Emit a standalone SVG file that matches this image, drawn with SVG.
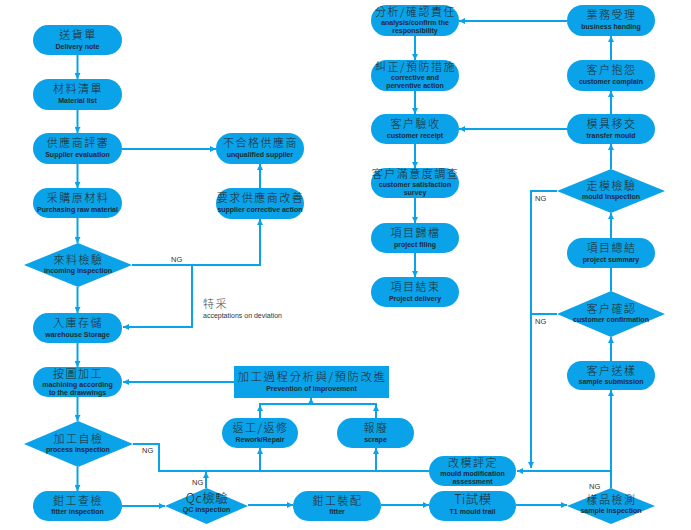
<svg xmlns="http://www.w3.org/2000/svg" width="691" height="530" viewBox="0 0 691 530">
<style>
.n{fill:#0AA2E8}
.l{stroke:#0AA2E8;stroke-width:2;fill:none}
.zh{font-family:"Noto Sans CJK TC","Noto Sans CJK SC",sans-serif;font-size:11px;font-weight:300;fill:#262626;text-anchor:middle;letter-spacing:1.5px}
.en{font-family:"Liberation Sans",Arial,sans-serif;font-size:7px;font-weight:bold;fill:#1c2a38;text-anchor:middle}
.ng{font-family:"Liberation Sans",Arial,sans-serif;font-size:7.5px;fill:#333}
.lbz{font-family:"Noto Sans CJK TC","Noto Sans CJK SC",sans-serif;font-size:11px;font-weight:300;fill:#444;letter-spacing:1.5px}
.lbe{font-family:"Liberation Sans",Arial,sans-serif;font-size:7px;fill:#333}
</style>
<defs>
<marker id="a" markerUnits="userSpaceOnUse" markerWidth="6" markerHeight="6" refX="6" refY="3" orient="auto">
<path d="M0,0 L6,3 L0,6 z" fill="#0AA2E8"/>
</marker>
</defs>
<rect width="691" height="530" fill="#fff"/>

<g id="connectors" class="l">
<path d="M77.5,55 V79" marker-end="url(#a)"/>
<path d="M77.5,110 V133" marker-end="url(#a)"/>
<path d="M77.5,164 V188" marker-end="url(#a)"/>
<path d="M77.5,218 V243" marker-end="url(#a)"/>
<path d="M77.5,287 V313" marker-end="url(#a)"/>
<path d="M77.5,343 V367" marker-end="url(#a)"/>
<path d="M77.5,397 V421" marker-end="url(#a)"/>
<path d="M77.5,467 V491" marker-end="url(#a)"/>
<path d="M122,149 H216" marker-end="url(#a)"/>
<path d="M260,188 V164" marker-end="url(#a)"/>
<path d="M132,265 H260 V219" marker-end="url(#a)"/>
<path d="M192,265 V327 H123" marker-end="url(#a)"/>
<path d="M234,382 H123" marker-end="url(#a)"/>
<path d="M133,444 H159 V471 H429"/>
<path d="M260,471 V448" marker-end="url(#a)"/>
<path d="M376,471 V448" marker-end="url(#a)"/>
<path d="M260,418 V405" marker-end="url(#a)"/>
<path d="M376,418 V405" marker-end="url(#a)"/>
<path d="M259,404 H377"/>
<path d="M311,404 V398" marker-end="url(#a)"/>
<path d="M206,488 V472" marker-end="url(#a)"/>
<path d="M122,506 H165" marker-end="url(#a)"/>
<path d="M248,505 H293" marker-end="url(#a)"/>
<path d="M381,505 H429" marker-end="url(#a)"/>
<path d="M516,505 H567" marker-end="url(#a)"/>
<path d="M611,488 V390" marker-end="url(#a)"/>
<path d="M611,471 H517" marker-end="url(#a)"/>
<path d="M611,361 V337" marker-end="url(#a)"/>
<path d="M611,291 V268"/>
<path d="M611,238 V213" marker-end="url(#a)"/>
<path d="M611,169 V144" marker-end="url(#a)"/>
<path d="M611,114 V91" marker-end="url(#a)"/>
<path d="M611,60 V36" marker-end="url(#a)"/>
<path d="M567,21 H459" marker-end="url(#a)"/>
<path d="M567,129 H459" marker-end="url(#a)"/>
<path d="M415,36 V60" marker-end="url(#a)"/>
<path d="M415,91 V114" marker-end="url(#a)"/>
<path d="M415,144 V168" marker-end="url(#a)"/>
<path d="M415,198 V223" marker-end="url(#a)"/>
<path d="M415,253 V277" marker-end="url(#a)"/>
<path d="M557,191 H531 V468" marker-end="url(#a)"/>
<path d="M557,314 H531"/>
</g>

<g id="labels">
<text class="ng" x="171" y="262">NG</text>
<text class="lbz" x="203" y="308">特采</text>
<text class="lbe" x="203" y="318">acceptations on deviation</text>
<text class="ng" x="142" y="453">NG</text>
<text class="ng" x="192" y="485">NG</text>
<text class="ng" x="535" y="201">NG</text>
<text class="ng" x="535" y="324">NG</text>
<text class="ng" x="589" y="489">NG</text>
</g>

<g id="n1"><rect class="n" x="33" y="25" width="89" height="30" rx="15"/><text class="zh" x="78" y="39">送貨單</text><text class="en" x="77.5" y="49">Delivery note</text></g>
<g id="n2"><rect class="n" x="33" y="79" width="89" height="31" rx="15.5"/><text class="zh" x="78" y="93">材料清單</text><text class="en" x="77.5" y="103">Material list</text></g>
<g id="n3"><rect class="n" x="33" y="133" width="89" height="31" rx="15.5"/><text class="zh" x="78" y="147">供應商評審</text><text class="en" x="77.5" y="157">Supplier evaluation</text></g>
<g id="n4"><rect class="n" x="33" y="188" width="89" height="30" rx="15"/><text class="zh" x="78" y="202">采購原材料</text><text class="en" x="77.5" y="212">Purchasing raw material</text></g>
<g id="n5"><polygon class="n" points="24,265 78,243 132,265 78,287"/><text class="zh" x="78.5" y="264">來料檢驗</text><text class="en" x="78" y="273">incoming inspection</text></g>
<g id="n6"><rect class="n" x="33" y="313" width="89" height="30" rx="15"/><text class="zh" x="78" y="327">入庫存儲</text><text class="en" x="77.5" y="337">warehouse Storage</text></g>
<g id="n7"><rect class="n" x="33" y="367" width="89" height="30" rx="15"/><text class="zh" x="78" y="378">按圖加工</text><text class="en" x="77.5" y="387">machining according</text><text class="en" x="77.5" y="394.5">to the drawwings</text></g>
<g id="n8"><polygon class="n" points="24,444 78,421 133,444 78,467"/><text class="zh" x="78.5" y="443">加工自檢</text><text class="en" x="78" y="452">process inspection</text></g>
<g id="n9"><rect class="n" x="33" y="491" width="89" height="30" rx="15"/><text class="zh" x="78" y="505">鉗工查檢</text><text class="en" x="77.5" y="514">fitter inspection</text></g>
<g id="n10"><rect class="n" x="216" y="133" width="88" height="31" rx="15.5"/><text class="zh" x="260.5" y="147">不合格供應商</text><text class="en" x="260" y="157">unqualified supplier</text></g>
<g id="n11"><rect class="n" x="216" y="188" width="88" height="31" rx="15.5"/><text class="zh" x="260.5" y="202">要求供應商改善</text><text class="en" x="260" y="212">supplier corrective action</text></g>
<g id="n12"><polygon class="n" points="165,506 206.5,488 248,506 206.5,524"/><text class="zh" x="207" y="503" style="font-size:12.5px;letter-spacing:0.5px">Qc檢驗</text><text class="en" x="206.5" y="511.5">QC inspection</text></g>
<g id="n13"><rect class="n" x="293" y="491" width="88" height="30" rx="15"/><text class="zh" x="337.5" y="505">鉗工裝配</text><text class="en" x="337" y="514">fitter</text></g>
<g id="n14"><rect class="n" x="429" y="491" width="87" height="30" rx="15"/><text class="zh" x="473" y="504" style="font-size:12.5px;letter-spacing:0.5px">Ti試模</text><text class="en" x="472.5" y="514">T1 mould trail</text></g>
<g id="n15"><polygon class="n" points="567,506 611,488 655,506 611,524"/><text class="zh" x="611.5" y="504">樣品檢測</text><text class="en" x="611" y="512.5">sample inspection</text></g>
<g id="n16"><rect class="n" x="429" y="456" width="87" height="30" rx="15"/><text class="zh" x="473" y="467">改模評定</text><text class="en" x="472.5" y="476">mould modification</text><text class="en" x="472.5" y="483.5">assessment</text></g>
<g id="n17"><rect class="n" x="234" y="366" width="155" height="32"/><text class="zh" x="312" y="381" style="font-size:11.5px">加工過程分析與/預防改進</text><text class="en" x="311.5" y="391">Prevention of improvement</text></g>
<g id="n18"><rect class="n" x="222" y="418" width="76" height="30" rx="15"/><text class="zh" x="260.5" y="432">返工/返修</text><text class="en" x="260" y="442">Rework/Repair</text></g>
<g id="n19"><rect class="n" x="337" y="418" width="77" height="30" rx="15"/><text class="zh" x="376" y="432">報廢</text><text class="en" x="375.5" y="442">scrape</text></g>
<g id="n20"><rect class="n" x="567" y="5" width="88" height="31" rx="15.5"/><text class="zh" x="611.5" y="19">業務受理</text><text class="en" x="611" y="29">business handing</text></g>
<g id="n21"><rect class="n" x="567" y="60" width="88" height="31" rx="15.5"/><text class="zh" x="611.5" y="74">客户抱怨</text><text class="en" x="611" y="84">customer complain</text></g>
<g id="n22"><rect class="n" x="567" y="114" width="88" height="30" rx="15"/><text class="zh" x="611.5" y="128">模具移交</text><text class="en" x="611" y="138">transfer mould</text></g>
<g id="n23"><polygon class="n" points="557,191 611,169 665,191 611,213"/><text class="zh" x="611.5" y="190">走模檢驗</text><text class="en" x="611" y="199">mould inspection</text></g>
<g id="n24"><rect class="n" x="567" y="238" width="88" height="30" rx="15"/><text class="zh" x="611.5" y="252">項目總結</text><text class="en" x="611" y="262">project summary</text></g>
<g id="n25"><polygon class="n" points="557,314 611,291 665,314 611,337"/><text class="zh" x="611.5" y="313">客户確認</text><text class="en" x="611" y="322">customer confirmation</text></g>
<g id="n26"><rect class="n" x="567" y="361" width="88" height="29" rx="14.5"/><text class="zh" x="611.5" y="375">客户送樣</text><text class="en" x="611" y="384">sample submission</text></g>
<g id="n27"><rect class="n" x="371" y="5" width="88" height="31" rx="15.5"/><text class="zh" x="415.5" y="16">分析/確認責任</text><text class="en" x="415" y="25">analysis/confirm the</text><text class="en" x="415" y="32.5">responsibility</text></g>
<g id="n28"><rect class="n" x="371" y="60" width="88" height="31" rx="15.5"/><text class="zh" x="415.5" y="71">糾正/預防措施</text><text class="en" x="415" y="80">corrective and</text><text class="en" x="415" y="87.5">perventive action</text></g>
<g id="n29"><rect class="n" x="371" y="114" width="88" height="30" rx="15"/><text class="zh" x="415.5" y="128">客户驗收</text><text class="en" x="415" y="138">customer receipt</text></g>
<g id="n30"><rect class="n" x="371" y="168" width="88" height="30" rx="15"/><text class="zh" x="415.5" y="178">客户滿意度調查</text><text class="en" x="415" y="187">customer satisfaction</text><text class="en" x="415" y="194.5">survey</text></g>
<g id="n31"><rect class="n" x="371" y="223" width="88" height="30" rx="15"/><text class="zh" x="415.5" y="237">項目歸檔</text><text class="en" x="415" y="247">project filing</text></g>
<g id="n32"><rect class="n" x="371" y="277" width="88" height="30" rx="15"/><text class="zh" x="415.5" y="291">項目結束</text><text class="en" x="415" y="301">Project delivery</text></g>
</svg>
